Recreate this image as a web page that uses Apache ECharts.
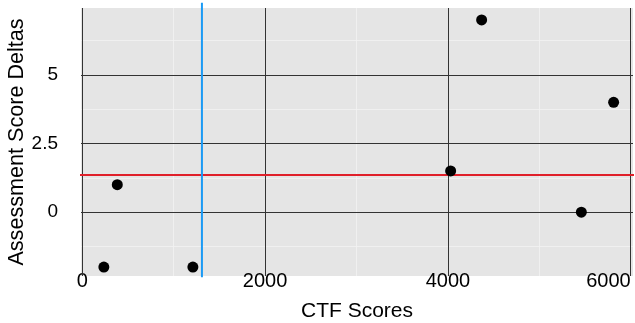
<!DOCTYPE html>
<html>
<head>
<meta charset="utf-8">
<script src="https://cdn.jsdelivr.net/npm/echarts@6/dist/echarts.min.js"></script>
<style>html,body{margin:0;padding:0;background:#fff}#c{width:635px;height:323px}</style>
</head>
<body>
<div id="c"></div>
<script>
// Data
var ctfScores = [236, 383, 1210, 4030, 4369, 5460, 5813];
var scoreDeltas = [-2, 1, -2, 1.5, 7, 0, 4];
var xTicks = [0, 2000, 4000, 6000];
var xMinorTicks = [1000, 3000, 5000];
var yTicks = [0, 2.5, 5];
var yMinorTicks = [-1.25, 1.25, 3.75, 6.25];
var ctfThreshold = 1309;
var meanDelta = 1.357;
var xRange = [-14, 6025];
var yRange = [-2.325, 7.435];

var font = 'Liberation Sans, Arial, Helvetica, sans-serif';
var points = ctfScores.map(function (x, i) { return [x, scoreDeltas[i]]; });

function gridMarks(values, axisKey, color, width) {
  return values.map(function (v) { var o = {}; o[axisKey] = v; o.lineStyle = {color: color, width: width, type: 'solid'}; return o; });
}

var chart = echarts.init(document.getElementById('c'), null, {renderer: 'canvas'});
chart.setOption({
  animation: false,
  backgroundColor: '#ffffff',
  grid: {left: 81, right: 2, top: 8, bottom: 47, show: true, backgroundColor: '#e5e5e5', borderWidth: 0,
         containLabel: false, outerBoundsMode: 'none'},
  xAxis: {
    type: 'value', min: xRange[0], max: xRange[1],
    axisLine: {show: false}, axisTick: {show: false}, splitLine: {show: false},
    axisLabel: {customValues: xTicks, color: '#000', fontSize: 20, fontFamily: font, margin: -5,
                alignMaxLabel: 'right',
                formatter: function (v) { return String(v); }},
    name: 'CTF Scores', nameLocation: 'middle', nameGap: 25,
    nameTextStyle: {color: '#000', fontSize: 21, fontFamily: font}
  },
  yAxis: {
    type: 'value', min: yRange[0], max: yRange[1],
    axisLine: {show: false}, axisTick: {show: false}, splitLine: {show: false},
    axisLabel: {customValues: yTicks, color: '#000', fontSize: 19, fontFamily: font, margin: 23,
                formatter: function (v) { return String(v); }},
    name: 'Assessment Score Deltas', nameLocation: 'middle', nameGap: 53, nameMoveOverlap: false,
    nameTextStyle: {color: '#000', fontSize: 21.6, fontFamily: font}
  },
  series: [
    {
      type: 'scatter', data: [], silent: true, z: 1,
      markLine: {
        silent: true, symbol: 'none', label: {show: false}, animation: false, z: 1,
        data: gridMarks(xMinorTicks, 'xAxis', '#f2f2f2', 0.8)
          .concat(gridMarks(yMinorTicks, 'yAxis', '#f2f2f2', 0.8))
          .concat(gridMarks(xTicks, 'xAxis', '#333333', 1))
          .concat(gridMarks(yTicks, 'yAxis', '#333333', 1))
      }
    },
    {
      type: 'line', clip: false, silent: true, symbol: 'none', z: 10,
      data: [[xRange[0] - 33, meanDelta], [xRange[1] + 25, meanDelta]],
      lineStyle: {color: '#e0202a', width: 2}
    },
    {
      type: 'line', clip: false, silent: true, symbol: 'none', z: 11,
      data: [[ctfThreshold, yRange[1] + 0.19], [ctfThreshold, yRange[0] - 0.05]],
      lineStyle: {color: '#1a9af5', width: 2}
    },
    {
      type: 'scatter', data: points, symbol: 'circle', symbolSize: 11,
      itemStyle: {color: '#000', opacity: 1}, z: 12
    }
  ]
});
</script>
</body>
</html>
